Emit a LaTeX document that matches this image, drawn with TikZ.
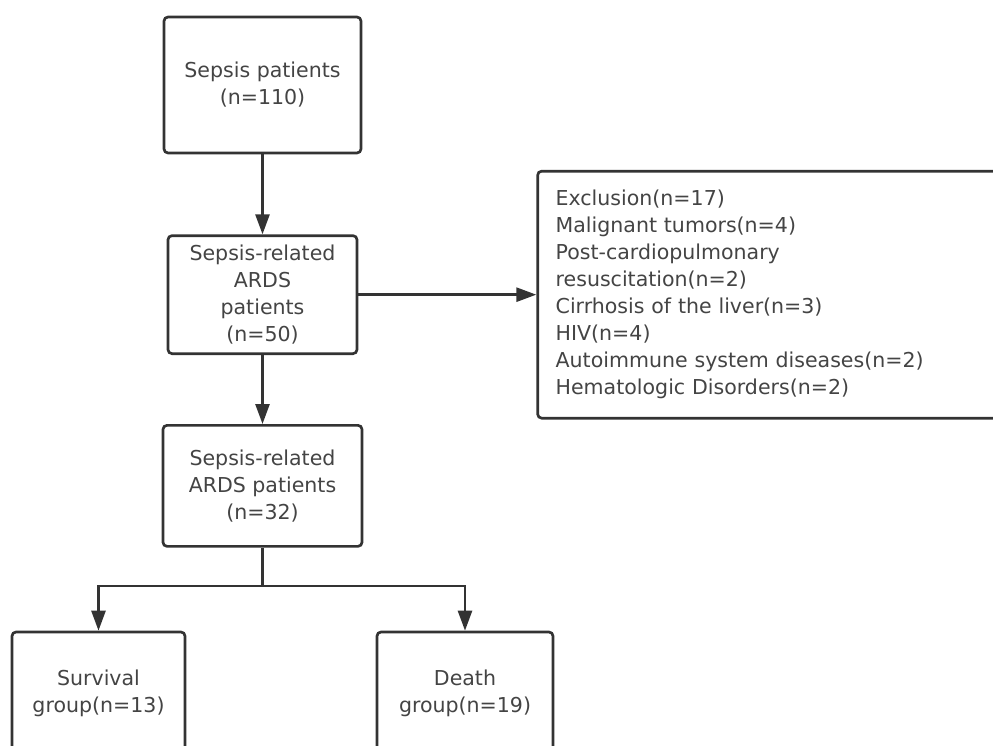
\documentclass[tikz,border=0pt]{standalone}
\usepackage{fontspec}
\setmainfont{DejaVu Sans}
\usetikzlibrary{arrows.meta,positioning}
\definecolor{linec}{HTML}{333333}
\definecolor{textc}{HTML}{444444}

\begin{document}
\begin{tikzpicture}[x=0.75pt, y=-0.75pt, >={Triangle[length=15pt,width=10.5pt]},
	   font=\fontsize{15.4}{20.25}\selectfont,
	   box/.style={draw=linec, line width=2pt, rounded corners=3pt, align=center, text=textc, inner sep=0pt},
	   link/.style={draw=linec, line width=2pt}]
	  \useasboundingbox (0,0) rectangle (993,746);
	  \node[box, minimum width=147.75pt, minimum height=102pt] (sepsis) at (262.5,85) {Sepsis patients\\(n=110)};
	  \node[box, minimum width=141.75pt, minimum height=88.5pt, below=60pt of sepsis] (ards) {Sepsis-related\\ARDS\\patients\\(n=50)};
	  \node[box, minimum width=149.25pt, minimum height=90.75pt, below=51.75pt of ards] (incl) {Sepsis-related\\ARDS patients\\(n=32)};
	  \node[box, align=left, text width=333pt, inner xsep=13.5pt, minimum height=185.25pt, right=133.5pt of ards] (excl)
	    {Exclusion(n=17)\\Malignant tumors(n=4)\\Post-cardiopulmonary\\resuscitation(n=2)\\Cirrhosis of the liver(n=3)\\HIV(n=4)\\Autoimmune system diseases(n=2)\\Hematologic Disorders(n=2)};
	  \node[box, minimum width=129.75pt, minimum height=92.25pt] (surv) at (98.5,693.5) {Survival\\group(n=13)};
	  \node[box, minimum width=132pt, minimum height=92.25pt] (death) at (465,693.5) {Death\\group(n=19)};
	  \coordinate (split) at (262.5,586);
	  \draw[link,->] (sepsis) -- (ards);
	  \draw[link,->] (ards) -- (incl);
	  \draw[link,->] (ards) -- (excl);
	  \draw[link,->] (incl.south) -- (split) -| (surv.north);
	  \draw[link,->] (split) -| (death.north);
	\end{tikzpicture}
\end{document}
